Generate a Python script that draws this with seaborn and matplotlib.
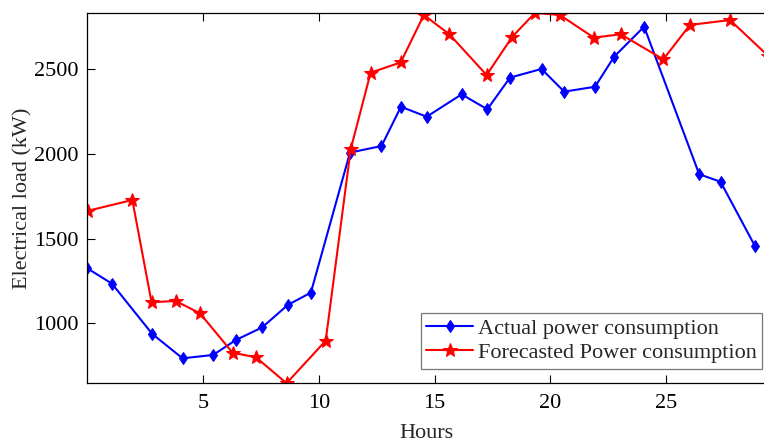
import numpy as np
import pandas as pd
import matplotlib
matplotlib.use("Agg")
import matplotlib.pyplot as plt
import seaborn as sns

# Data
actual_hours = [0.0, 1.07, 2.81, 4.12, 5.44, 6.42, 7.56, 8.66, 9.66, 11.35, 12.71, 13.55,
                14.66, 16.17, 17.28, 18.26, 19.62, 20.6, 21.93, 22.76, 24.05, 26.43, 27.35, 28.83]
actual_load = [1325, 1234, 937, 793, 813, 901, 976, 1108, 1181, 2008, 2047, 2279,
               2220, 2352, 2264, 2451, 2502, 2368, 2397, 2575, 2752, 1880, 1836, 1458]

forecast_hours = [0.05, 1.95, 2.78, 3.82, 4.87, 6.28, 7.29, 8.61, 10.3, 11.38, 12.24, 13.54,
                  14.54, 15.64, 17.25, 18.36, 19.34, 20.41, 21.88, 23.04, 24.88, 26.03, 27.76, 29.4]
forecast_load = [1665, 1728, 1124, 1132, 1059, 826, 799, 646, 897, 2028, 2480, 2541,
                 2821, 2707, 2466, 2693, 2833, 2821, 2687, 2707, 2559, 2762, 2791, 2580]

actual_df = pd.DataFrame({"Hours": actual_hours, "Load": actual_load})
forecast_df = pd.DataFrame({"Hours": forecast_hours, "Load": forecast_load})

sns.set_style("white")
plt.rcParams['font.family'] = ['Liberation Serif', 'DejaVu Serif']

fig = plt.figure(figsize=(7.64, 4.42), dpi=100)
ax = fig.add_axes([0.1141, 0.133, 0.889, 0.837])

sns.lineplot(data=actual_df, x="Hours", y="Load", ax=ax, color="#0000ff",
             marker="d", markersize=6, markeredgecolor="#0000ff", linewidth=1.5,
             label="Actual power consumption")
sns.lineplot(data=forecast_df, x="Hours", y="Load", ax=ax, color="#ff0000",
             marker="*", markersize=10, markeredgecolor="#ff0000", linewidth=1.5,
             label="Forecasted Power consumption")

ax.set_xlim(0, 29.33)
ax.set_ylim(646, 2831)
ax.set_xticks([5, 10, 15, 20, 25])
ax.set_yticks([1000, 1500, 2000, 2500])
ax.tick_params(direction="in", length=5.5, width=0.8, labelsize=16, colors="black",
               top=True, right=False, bottom=True, left=True, pad=6)
ax.tick_params(axis="x", pad=8)
for s in ax.spines.values():
    s.set_color("black")
    s.set_linewidth(0.9)
ax.spines["right"].set_visible(False)

ax.set_xlabel("Hours", fontsize=16, labelpad=8)
ax.set_ylabel("Electrical load (kW)", fontsize=16, labelpad=1)

leg = ax.legend(loc="lower right", fontsize=16, frameon=True, fancybox=False,
                edgecolor="#555555", borderpad=0.25, handlelength=2.1,
                labelspacing=0.15, handletextpad=0.2, borderaxespad=0,
                bbox_to_anchor=(762 / 764, 1 - 368.5 / 442),
                bbox_transform=fig.transFigure)
leg.get_frame().set_linewidth(0.9)

fig.savefig("out.png", dpi=100)
